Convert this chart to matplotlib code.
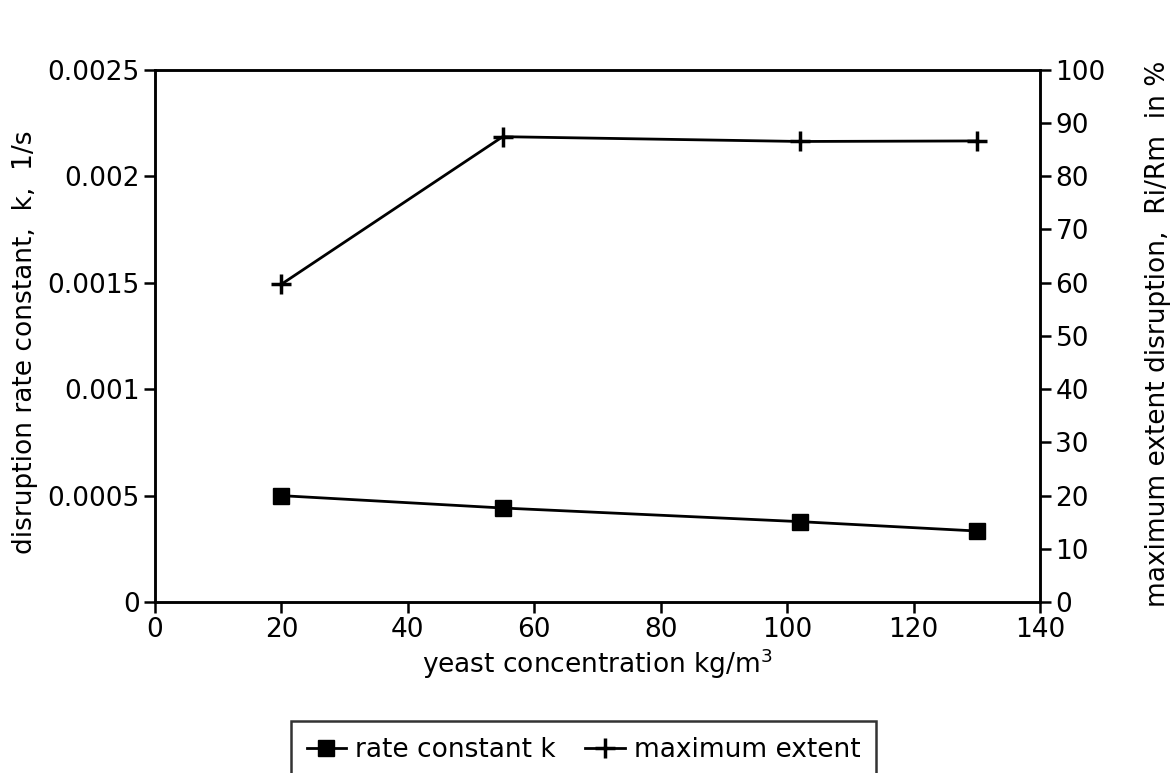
import matplotlib
matplotlib.use("Agg")
from matplotlib import pyplot as plt

# yeast concentration kg/m3
conc = [20, 55, 102, 130]
# rate constant k, 1/s
rate_k = [0.0005, 0.000442, 0.000378, 0.000334]
# maximum extent disruption Ri/Rm in %
max_extent = [59.7, 87.4, 86.5, 86.6]

plt.rcParams["font.family"] = ["DejaVu Sans"]

fig = plt.figure(figsize=(11.74, 7.73), dpi=100)
ax = fig.add_axes([0.132, 0.221, 0.754, 0.689])
ax2 = ax.twinx()

l1, = ax.plot(conc, rate_k, color="black", lw=2, marker="s", ms=11)
l2, = ax2.plot(conc, max_extent, color="black", lw=2, marker="+", ms=14, mew=2.5)

ax.set_xlim(0, 140)
ax.set_ylim(0, 0.0025)
ax2.set_ylim(0, 100)
ax.set_xticks(range(0, 141, 20))
ax.set_yticks([0, 0.0005, 0.001, 0.0015, 0.002, 0.0025])
ax.set_yticklabels(["0", "0.0005", "0.001", "0.0015", "0.002", "0.0025"])
ax2.set_yticks(range(0, 101, 10))

for a in (ax, ax2):
    for s in a.spines.values():
        s.set_linewidth(1.8)
    a.tick_params(direction="out", length=8, width=1.8, labelsize=19, pad=3)

ax.set_xlabel("yeast concentration kg/m$^3$", fontsize=19, labelpad=2)
# y labels placed by hand, like in the scan
fig.text(25 / 1174, 1 - 342 / 773, "disruption rate constant,  k,  1/s",
         rotation=90, ha="center", va="center", fontsize=19)
fig.text(1158 / 1174, 1 - 334 / 773, "maximum extent disruption,  Ri/Rm  in %",
         rotation=90, ha="center", va="center", fontsize=19)

leg = fig.legend([l1, l2], ["rate constant k", "maximum extent"], ncol=2,
                 loc="lower center", bbox_to_anchor=(0.497, -0.025), fontsize=19,
                 frameon=True, fancybox=False, edgecolor="black",
                 handlelength=1.5, handletextpad=0.35, columnspacing=1.1, borderpad=0.6)
leg.get_frame().set_linewidth(1.8)

fig.savefig("out.png", dpi=100)
